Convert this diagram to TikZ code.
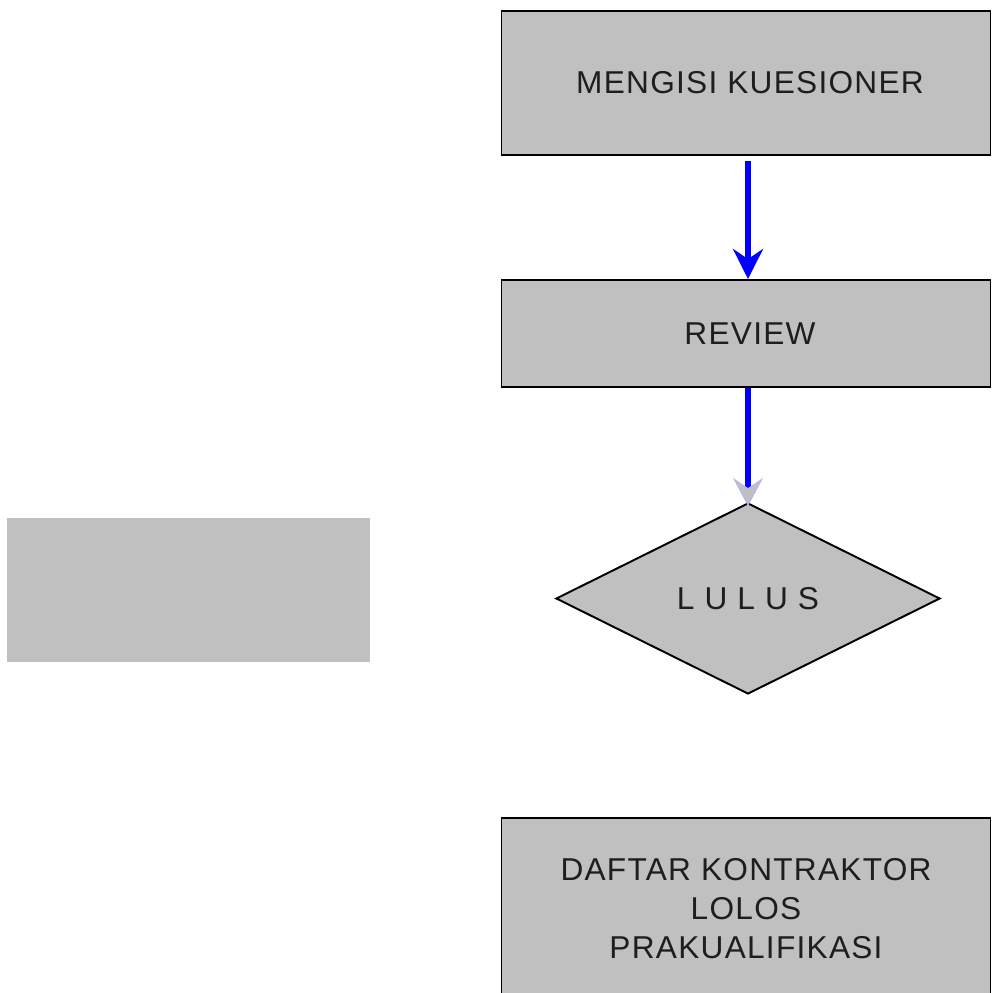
\documentclass[tikz,border=0pt]{standalone}
\usepackage{fontspec}
\setmainfont[LetterSpace=4]{Liberation Sans}
\usetikzlibrary{shapes.geometric,arrows.meta}
\definecolor{abu}{RGB}{192,192,192}
\definecolor{biru}{RGB}{0,0,255}
\definecolor{teks}{RGB}{30,30,30}
\tikzset{
	kotak/.style={draw=black, fill=abu, line width=1.1pt, minimum width=489*0.02cm, align=center, inner sep=0pt, text=teks},
	belah/.style={diamond, draw=black, fill=abu, line width=1.1pt, minimum width=384*0.02cm, minimum height=191*0.02cm, aspect=2, inner sep=0pt, text=teks},
	panah/.style={draw=biru, line width=3pt}
}
\begin{document}
\begin{tikzpicture}[x=0.02cm, y=-0.02cm, font=\fontsize{18}{22.2}\selectfont, line join=miter]
		\useasboundingbox (0,0) rectangle (991,993);
		\node[kotak, minimum height=144*0.02cm] (kuesioner) at (746,83) {\hspace*{0.16cm}MENGISI KUESIONER};
		\node[kotak, minimum height=107*0.02cm] (review) at (746,333.5) {\hspace*{0.16cm}REVIEW};
		\node[belah] (lulus) at (748,598.5) {L U L U S};
		\node[kotak, minimum height=182*0.02cm] (daftar) at (746,909) {DAFTAR KONTRAKTOR\\LOLOS\\PRAKUALIFIKASI};
		\fill[abu] (7,518) rectangle (370,662);
		% panah
		\draw[panah, shorten <=5*0.02cm, -{Stealth[length=30*0.02cm, width=30*0.02cm, inset=10*0.02cm, fill=biru]}] (kuesioner.south -| lulus.north) -- (review.north -| lulus.north);
		\draw[panah, -{Stealth[length=28*0.02cm, width=30*0.02cm, inset=10*0.02cm, color=blue!30, fill=abu, line width=0.5pt]}] (review.south -| lulus.north) -- ([yshift=-4*0.02cm]lulus.north);
\end{tikzpicture}
\end{document}
